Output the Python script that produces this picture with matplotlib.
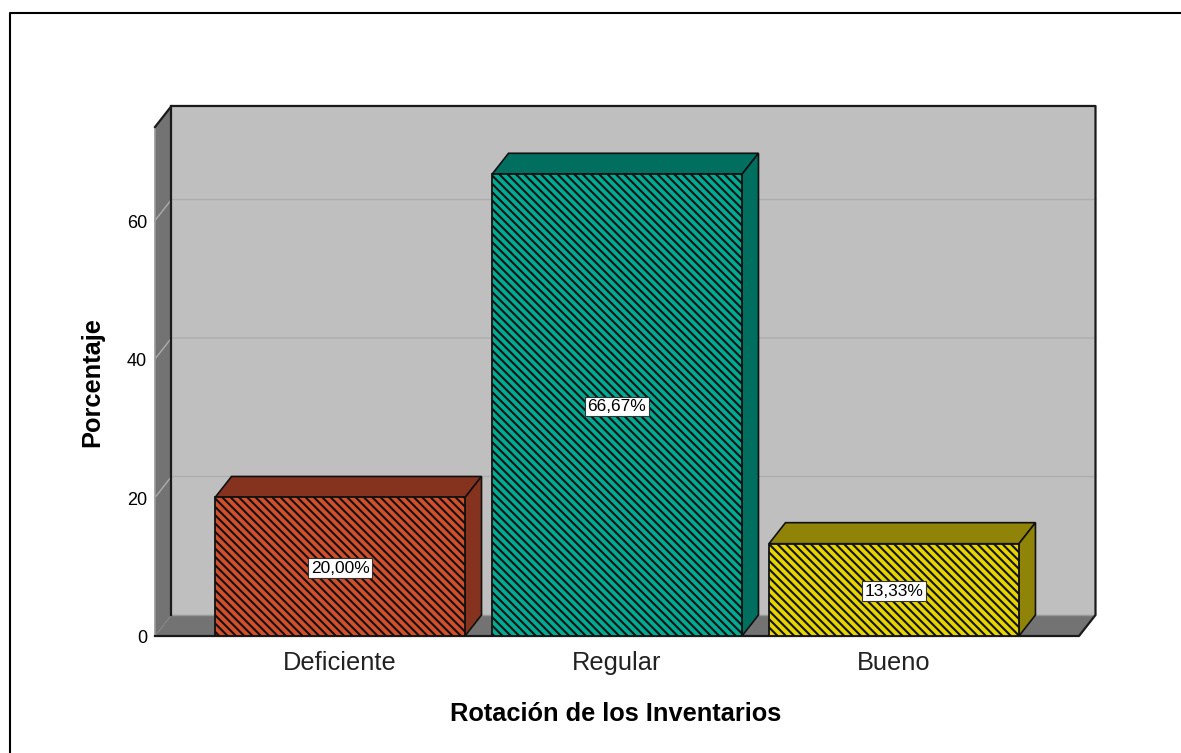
import matplotlib
matplotlib.use('Agg')
import matplotlib.pyplot as plt
from matplotlib.patches import Polygon

plt.rcParams['font.family'] = ['Liberation Sans', 'DejaVu Sans']
plt.rcParams['hatch.linewidth'] = 1.5

categories = ['Deficiente', 'Regular', 'Bueno']
values = [20.00, 66.67, 13.33]
value_labels = ['20,00%', '66,67%', '13,33%']
y_ticks = [0, 20, 40, 60]

front_colors = ['#D24F2C', '#00AB94', '#E6D400']
side_colors = ['#85321E', '#006F60', '#8F8407']

W, H = 1181, 753
fig = plt.figure(figsize=(W / 100, H / 100), dpi=100)

# рамка вокруг графика: сверху и слева
fig.add_artist(plt.Line2D([10 / W, 10 / W, 1], [0, 1 - 13 / H, 1 - 13 / H], transform=fig.transFigure,
                          color='black', lw=1.5))

# передняя плоскость: x 155..1079, y 636..127 (пиксели)
ax = fig.add_axes([155 / W, 1 - 636 / H, 924 / W, 509 / H])
ax.set_xlim(-0.668, 2.668)
ax.set_ylim(0, 73.5)
ax.axis('off')

# глубина 3D в единицах данных
dx = 16.5 / 277
dy = 21 / 6.92
x0, x1 = ax.get_xlim()
y1 = ax.get_ylim()[1]
bar_w = 250 / 277
dark = '#1a1a1a'

# задняя стенка, левая стенка, пол
ax.add_patch(Polygon([(x0 + dx, dy), (x1 + dx, dy), (x1 + dx, y1 + dy), (x0 + dx, y1 + dy)],
                     fc='#BFBFBF', ec='none', clip_on=False, zorder=1))
ax.add_patch(Polygon([(x0, 0), (x0 + dx, dy), (x0 + dx, y1 + dy), (x0, y1)],
                     fc='#737373', ec='none', clip_on=False, zorder=1.5))
ax.add_patch(Polygon([(x0, 0), (x1, 0), (x1 + dx, dy), (x0 + dx, dy)],
                     fc='#737373', ec='none', clip_on=False, zorder=1.5))

# линии сетки
for t in y_ticks[1:]:
    ax.plot([x0, x0 + dx, x1 + dx], [t, t + dy, t + dy], color='#ADADAD', lw=1,
            clip_on=False, zorder=1.8)

# контуры коробки
ax.plot([x0 + dx, x1 + dx], [dy, dy], color='#999999', lw=1, clip_on=False, zorder=2)
ax.plot([x0, x0], [0, y1], color='#999999', lw=1.2, clip_on=False, zorder=2)
ax.plot([x0 + dx, x0 + dx], [dy, y1 + dy], color=dark, lw=1.6, clip_on=False, zorder=2.1)
ax.plot([x0, x0 + dx, x1 + dx, x1 + dx, x1, x0], [y1, y1 + dy, y1 + dy, dy, 0, 0], color=dark, lw=1.6,
        clip_on=False, zorder=2.1)

# столбцы
for i, v in enumerate(values):
    left, right = i - bar_w / 2, i + bar_w / 2
    ax.add_patch(Polygon([(left, v), (right, v), (right + dx, v + dy), (left + dx, v + dy)],
                         fc=side_colors[i], ec='#111111', lw=1.2, zorder=3))
    ax.add_patch(Polygon([(right, 0), (right + dx, dy), (right + dx, v + dy), (right, v)],
                         fc=side_colors[i], ec='#111111', lw=1.2, zorder=3))
    ax.bar(i, v, bar_w, color=front_colors[i], edgecolor='#111111', hatch='\\\\\\\\', lw=1.3, zorder=4)
    ax.text(i, v / 2 - 0.2, value_labels[i], ha='center', va='center', fontsize=12.5, color='black', zorder=5,
            bbox=dict(boxstyle='square,pad=0.14', fc='white', ec='#333333', lw=0.8))

# подписи осей
for t in y_ticks:
    ax.text(x0 - 8 / 277, t - 0.4, str(t), ha='right', va='center', fontsize=13, clip_on=False)
for i, c in enumerate(categories):
    ax.text(i, -3.6 - 0.3, c, ha='center', va='center', fontsize=18.3, color='#222222', clip_on=False)

fig.text(616 / W, 1 - 714 / H, 'Rotación de los Inventarios', ha='center', va='center',
         fontsize=18.3, fontweight='bold')
fig.text(92 / W, 1 - 382 / H, 'Porcentaje', ha='center', va='center', rotation=90,
         fontsize=18.3, fontweight='bold')

fig.savefig('out.png', dpi=100)
